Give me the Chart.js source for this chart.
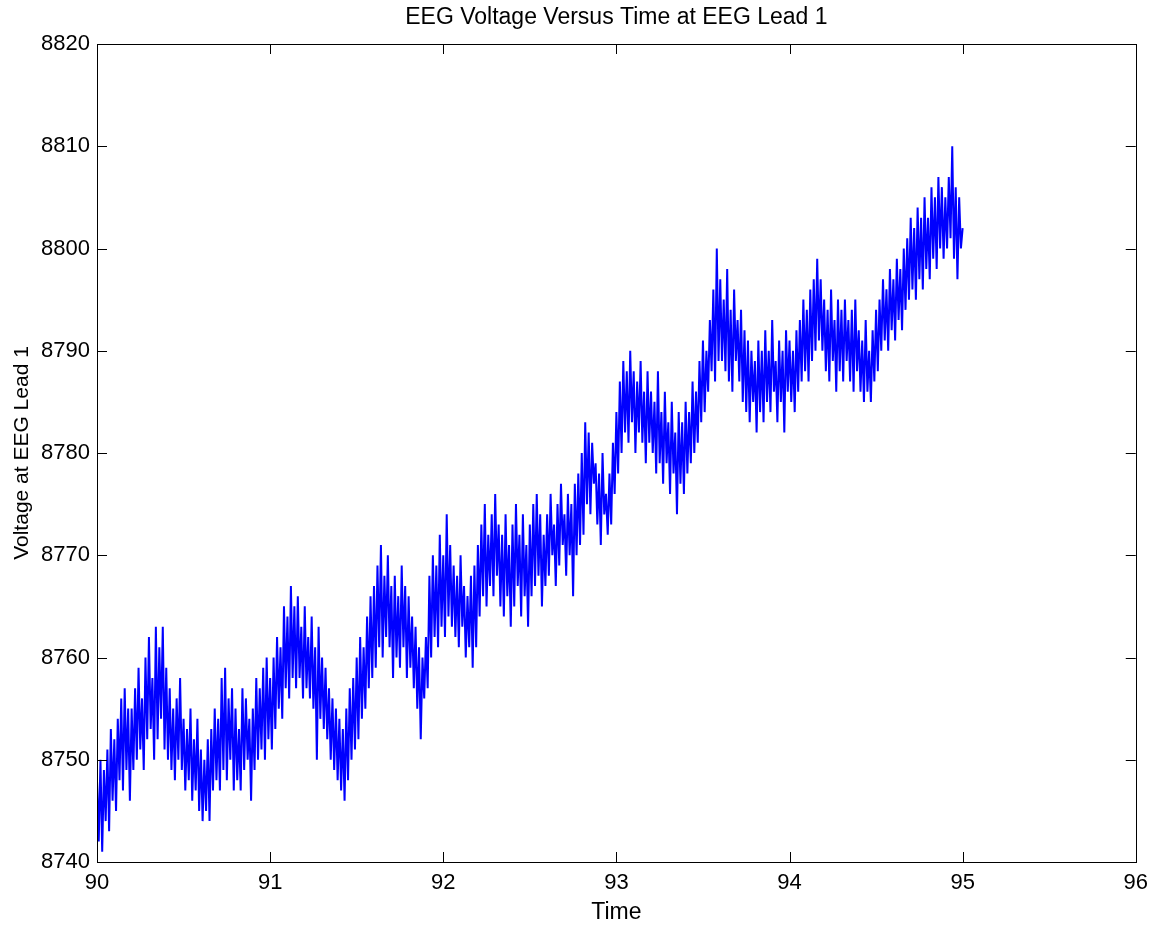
<!DOCTYPE html>
<html>
<head>
<meta charset="utf-8">
<script src="https://cdn.jsdelivr.net/npm/chart.js@4/dist/chart.umd.min.js"></script>
<style>
  html, body { margin:0; padding:0; background:#fff; }
  #wrap { width:1156px; height:926px; }
</style>
</head>
<body>
<div id="wrap"><canvas id="eeg" width="1156" height="926"></canvas></div>
<script>
// sampling grid (seconds)
const startTime = 90;
const sampleStep = 0.01;

// EEG lead 1 voltage, 20 samples per row (0.2 s)
const voltage = [
  8748,8742,8750,8741,8749,8744,8751,8743,8753,8746,8752,8745,8754,8748,8756,8747,8757,8749,8755,8746,
  8755,8749,8757,8750,8759,8751,8756,8749,8760,8752,8762,8753,8758,8750,8763,8752,8761,8754,8763,8751,
  8759,8750,8757,8749,8755,8748,8756,8750,8758,8749,8754,8747,8753,8748,8755,8746,8752,8747,8754,8745,
  8751,8744,8750,8745,8752,8744,8753,8747,8755,8748,8754,8747,8758,8749,8759,8748,8756,8750,8757,8747,
  8755,8748,8753,8747,8757,8749,8756,8750,8754,8746,8755,8749,8758,8750,8757,8751,8759,8750,8760,8752,
  8758,8751,8760,8753,8762,8755,8761,8754,8765,8757,8764,8756,8767,8758,8765,8757,8766,8758,8763,8756,
  8765,8757,8762,8756,8764,8755,8761,8750,8763,8754,8760,8753,8759,8752,8757,8750,8756,8749,8755,8748,
  8754,8747,8753,8746,8755,8748,8757,8750,8758,8751,8760,8752,8762,8754,8761,8755,8764,8757,8766,8758,
  8767,8759,8769,8761,8771,8760,8768,8762,8770,8761,8767,8758,8768,8760,8766,8759,8769,8761,8767,8758,
  8766,8759,8764,8757,8763,8755,8761,8752,8760,8756,8762,8757,8768,8760,8770,8762,8769,8761,8772,8763,
  8770,8762,8774,8764,8771,8763,8769,8762,8768,8761,8770,8763,8767,8760,8766,8761,8768,8759,8769,8761,
  8771,8764,8773,8766,8775,8765,8772,8767,8774,8766,8776,8768,8773,8765,8772,8764,8774,8766,8771,8763,
  8773,8765,8775,8767,8772,8764,8774,8766,8771,8763,8773,8766,8775,8767,8776,8768,8774,8765,8772,8767,
  8774,8768,8776,8770,8773,8767,8775,8769,8777,8771,8774,8768,8776,8770,8775,8766,8777,8770,8778,8771,
  8780,8772,8783,8775,8782,8774,8781,8777,8779,8773,8778,8771,8780,8774,8776,8772,8778,8773,8781,8776,
  8784,8778,8787,8780,8789,8782,8788,8781,8790,8783,8788,8780,8787,8782,8789,8781,8786,8779,8788,8781,
  8786,8780,8785,8778,8788,8779,8784,8777,8786,8779,8783,8776,8785,8778,8782,8774,8784,8777,8783,8776,
  8785,8778,8784,8779,8787,8780,8786,8781,8789,8783,8791,8784,8790,8786,8793,8788,8796,8787,8800,8789,
  8797,8789,8795,8788,8798,8787,8794,8786,8796,8789,8793,8787,8794,8785,8792,8784,8791,8783,8790,8785,
  8789,8782,8791,8784,8790,8783,8792,8785,8790,8784,8793,8786,8789,8783,8791,8785,8790,8782,8792,8786,
  8791,8785,8790,8784,8792,8786,8793,8787,8795,8788,8794,8787,8796,8789,8797,8790,8799,8791,8797,8790,
  8795,8788,8794,8787,8796,8789,8793,8786,8795,8788,8794,8787,8795,8789,8793,8787,8794,8786,8795,8788,
  8792,8786,8791,8785,8793,8786,8790,8785,8792,8787,8794,8788,8795,8790,8797,8791,8796,8790,8798,8792,
  8797,8791,8799,8793,8798,8792,8800,8794,8801,8795,8803,8796,8802,8795,8804,8797,8803,8796,8805,8798,
  8803,8797,8806,8799,8805,8798,8807,8800,8806,8799,8805,8800,8807,8801,8810,8799,8806,8797,8805,8800,
  8802
];

const xTicks = [90, 91, 92, 93, 94, 95, 96];
const yTicks = [8740, 8750, 8760, 8770, 8780, 8790, 8800, 8810, 8820];
const chartTitle = "EEG Voltage Versus Time at EEG Lead 1";

const points = voltage.map((v, i) => ({ x: +(startTime + i * sampleStep).toFixed(2), y: v }));

const FONT = "'Liberation Sans', Arial, Helvetica, sans-serif";

// matlab style box with inward ticks on all four sides, title centred over the axes
const boxTicks = {
  id: "boxTicks",
  afterDraw(chart) {
    const { ctx, chartArea: a, scales } = chart;
    const len = 10;
    ctx.save();
    ctx.strokeStyle = "#000";
    ctx.lineWidth = 1;
    ctx.beginPath();
    xTicks.forEach(t => {
      const px = Math.round(scales.x.getPixelForValue(t)) + 0.5;
      ctx.moveTo(px, a.bottom); ctx.lineTo(px, a.bottom - len);
      ctx.moveTo(px, a.top); ctx.lineTo(px, a.top + len);
    });
    yTicks.forEach(t => {
      const py = Math.round(scales.y.getPixelForValue(t)) + 0.5;
      ctx.moveTo(a.left, py); ctx.lineTo(a.left + len, py);
      ctx.moveTo(a.right, py); ctx.lineTo(a.right - len, py);
    });
    ctx.stroke();
    ctx.strokeRect(Math.round(a.left) + 0.5, Math.round(a.top) + 0.5, Math.round(a.right - a.left), Math.round(a.bottom - a.top));

    ctx.fillStyle = "#000";
    ctx.font = "23px " + FONT;
    ctx.textAlign = "center";
    ctx.textBaseline = "middle";
    ctx.fillText(chartTitle, (a.left + a.right) / 2, a.top - 26);
    ctx.restore();
  }
};

new Chart(document.getElementById("eeg").getContext("2d"), {
  type: "line",
  data: {
    datasets: [{
      data: points,
      borderColor: "#0000ff",
      borderWidth: 2,
      pointRadius: 0,
      tension: 0,
      fill: false
    }]
  },
  options: {
    responsive: false,
    animation: false,
    events: [],
    layout: { padding: { left: 0, right: 20, top: 44, bottom: 0 } },
    plugins: {
      legend: { display: false },
      tooltip: { enabled: false },
      title: { display: false }
    },
    scales: {
      x: {
        type: "linear",
        min: 90, max: 96,
        afterBuildTicks(s) { s.ticks = xTicks.map(v => ({ value: v })); },
        afterFit(s) { s.height = 64; },
        grid: { display: false, drawTicks: false },
        border: { display: false },
        ticks: { color: "#000", padding: 8, maxRotation: 0, font: { family: FONT, size: 22 }, callback: v => String(v) },
        title: { display: true, text: "Time", color: "#000", padding: 0, font: { family: FONT, size: 23 } }
      },
      y: {
        type: "linear",
        min: 8740, max: 8820,
        afterBuildTicks(s) { s.ticks = yTicks.map(v => ({ value: v })); },
        afterFit(s) { s.width = 97; },
        grid: { display: false, drawTicks: false },
        border: { display: false },
        ticks: { color: "#000", padding: 7, font: { family: FONT, size: 22 }, callback: v => String(v) },
        title: { display: true, text: "Voltage at EEG Lead 1", color: "#000", padding: { top: 10, bottom: 0 }, font: { family: FONT, size: 21 } }
      }
    }
  },
  plugins: [boxTicks]
});
</script>
</body>
</html>
